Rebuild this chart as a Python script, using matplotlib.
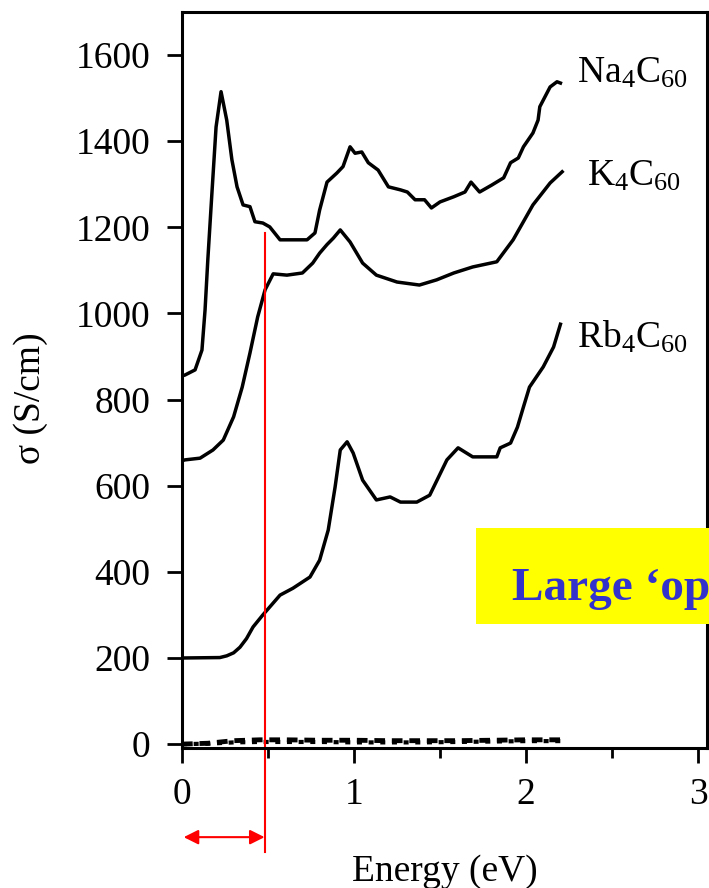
import numpy as np
import matplotlib.pyplot as plt
from matplotlib.patches import Rectangle

plt.rcParams['font.family'] = ['Liberation Serif', 'DejaVu Serif']
plt.rcParams['mathtext.fontset'] = 'custom'
plt.rcParams['mathtext.rm'] = 'Liberation Serif'
plt.rcParams['mathtext.it'] = 'Liberation Serif:italic'

# Na4C60 curve
na_e = [0.0, 0.017, 0.076, 0.116, 0.134, 0.15, 0.174, 0.198, 0.227, 0.26,
        0.29, 0.32, 0.355, 0.395, 0.424, 0.47, 0.51, 0.57, 0.727, 0.773,
        0.80, 0.843, 0.90, 0.936, 0.977,
        1.006, 1.045, 1.083, 1.14, 1.20, 1.27, 1.31, 1.355, 1.41, 1.45, 1.50,
        1.58, 1.645, 1.68, 1.73, 1.80, 1.87, 1.91, 1.955, 1.985, 2.04, 2.07,
        2.08, 2.14, 2.18, 2.20]
na_s = [855, 857, 869, 915, 1008, 1124, 1280, 1433, 1515, 1449,
        1357, 1294, 1252, 1248, 1213, 1210, 1201, 1171, 1171, 1187,
        1240, 1305, 1326, 1341, 1387,
        1372, 1375, 1350, 1333, 1294, 1287, 1282, 1264, 1264, 1245, 1259,
        1271, 1282, 1305, 1282, 1298, 1315, 1350, 1361, 1387, 1419, 1449,
        1480, 1526, 1538, 1535]

# K4C60 curve
k_e = [0.0, 0.017, 0.105, 0.18, 0.24, 0.30, 0.35, 0.395, 0.44, 0.483, 0.53,
       0.61, 0.70, 0.76, 0.80, 0.843, 0.88, 0.92, 0.977, 1.05, 1.13, 1.25,
       1.38, 1.48, 1.58, 1.69, 1.83, 1.925, 2.04, 2.14, 2.21]
k_s = [658, 660, 664, 683, 706, 760, 829, 908, 992, 1055, 1092,
       1089, 1094, 1117, 1140, 1160, 1175, 1194, 1166, 1117, 1089, 1073,
       1066, 1078, 1094, 1108, 1120, 1171, 1252, 1303, 1329]

# Rb4C60 curve
rb_e = [0.0, 0.22, 0.26, 0.30, 0.337, 0.375, 0.413, 0.47, 0.57, 0.645, 0.744,
        0.80, 0.85, 0.89, 0.92, 0.96, 0.995, 1.05, 1.13, 1.21, 1.27, 1.365,
        1.44, 1.54, 1.605, 1.69, 1.83, 1.85, 1.91, 1.95, 1.985, 2.02, 2.10,
        2.16, 2.20]
rb_s = [200, 201, 205, 212, 225, 245, 272, 300, 346, 362, 388,
        427, 497, 597, 683, 702, 676, 613, 567, 574, 562, 562,
        578, 660, 688, 667, 667, 688, 699, 736, 783, 829, 876,
        922, 975]

# low-conductivity (dashed) curves near zero
low_e = [0.0, 0.15, 0.30, 0.45, 0.60, 0.80, 1.00, 1.20, 1.40, 1.60, 1.80, 2.00, 2.20]
low_a = [0, 2, 8, 10, 10, 9, 9, 8, 8, 8, 9, 10, 10]
low_b = [0, 1, 4, 5, 5, 5, 4, 4, 4, 5, 6, 7, 7]

labels = ['Na$_4$C$_{60}$', 'K$_4$C$_{60}$', 'Rb$_4$C$_{60}$']
label_pos = [(2.297, 1535), (2.355, 1298), (2.297, 920)]

gap_edge = 0.48

fig = plt.figure(figsize=(7.09, 8.88), dpi=100)
ax = fig.add_axes([182 / 709, 140 / 888, 525 / 709, 736 / 888])

for e, s in [(na_e, na_s), (k_e, k_s), (rb_e, rb_s)]:
    ax.plot(e, s, color='black', lw=2.5, solid_joinstyle='round')
ax.plot(low_e, low_a, color='black', lw=3.5, ls=(0, (2.2, 1.4)))
ax.plot(low_e, low_b, color='black', lw=3.0, ls=(0, (1.2, 1.6)))

for txt, (x, y) in zip(labels, label_pos):
    ax.text(x, y, txt, fontsize=27, va='baseline', ha='left')

ax.set_xlim(0, 3.052)
ax.set_ylim(-9, 1700)
ax.set_xticks([0, 1, 2, 3])
ax.set_xticks([0.5, 1.5, 2.5], minor=True)
ax.set_yticks(np.arange(0, 1601, 200))
ax.tick_params(axis='both', which='major', direction='out', length=11,
               width=2, labelsize=27)
ax.tick_params(axis='x', which='major', pad=10)
ax.tick_params(axis='y', which='major', pad=12)
ax.tick_params(axis='x', which='minor', direction='out', length=7, width=2)
for sp in ax.spines.values():
    sp.set_linewidth(2.2)

ax.set_xlabel('Energy (eV)', fontsize=27)
ax.xaxis.set_label_coords(0.5, -0.145)
ax.set_ylabel('σ (S/cm)', fontsize=27)
ax.yaxis.set_label_coords(-0.255, 0.475)

# red marker of the gap edge
ax.plot([gap_edge, gap_edge], [1187, -251], color='red', lw=1.5, clip_on=False)
ax.annotate('', xy=(0.01, -216), xytext=(gap_edge, -216),
            arrowprops=dict(arrowstyle='<|-|>', color='red', lw=1.5,
                            mutation_scale=22, shrinkA=0, shrinkB=0),
            annotation_clip=False)

# yellow note box, cut at the right edge
fig.add_artist(Rectangle((476 / 709, (888 - 624) / 888), 240 / 709, 96 / 888,
                         transform=fig.transFigure, facecolor='#ffff00',
                         edgecolor='none', zorder=5))
fig.text(512 / 709, (888 - 600) / 888, 'Large ‘op', fontsize=34,
         fontweight='bold', color='#3333cc', va='baseline', ha='left', zorder=6)

fig.savefig('out.png', dpi=100)
